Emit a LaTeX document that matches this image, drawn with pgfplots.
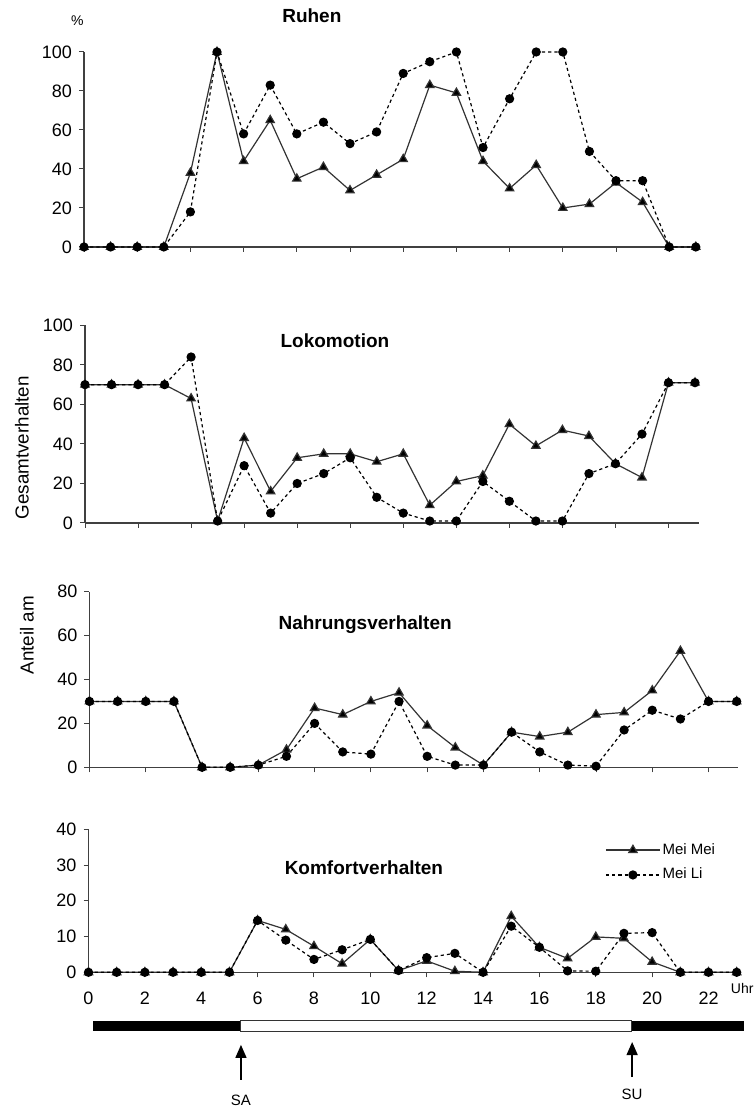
\documentclass[border=0pt]{standalone}
\usepackage{fontspec}
\setmainfont{Liberation Sans}
\usepackage{pgfplots}
\usepackage{pgfplotstable}
\pgfplotsset{compat=1.18}
\usetikzlibrary{arrows.meta}

% hour, Mei Mei, Mei Li (percent of total behaviour)
\pgfplotstableread{
h  mm   ml
0  0    0
1  0    0
2  0    0
3  0    0
4  38   18
5  100  100
6  44   58
7  65   83
8  35   58
9  41   64
10 29   53
11 37   59
12 45   89
13 83   95
14 79   100
15 44   51
16 30   76
17 42   100
18 20   100
19 22   49
20 33   34
21 23   34
22 0    0
23 0    0
}\ruhen
\pgfplotstableread{
h  mm   ml
0  70   70
1  70   70
2  70   70
3  70   70
4  63   84
5  1    1
6  43   29
7  16   5
8  33   20
9  35   25
10 35   33
11 31   13
12 35   5
13 9    1
14 21   1
15 24   21
16 50   11
17 39   1
18 47   1
19 44   25
20 30   30
21 23   45
22 71   71
23 71   71
}\lokomotion
\pgfplotstableread{
h  mm   ml
0  30   30
1  30   30
2  30   30
3  30   30
4  0    0
5  0    0
6  1    1
7  8    5
8  27   20
9  24   7
10 30   6
11 34   30
12 19   5
13 9    1
14 1    1
15 16   16
16 14   7
17 16   1
18 24   0.5
19 25   17
20 35   26
21 53   22
22 30   30
23 30   30
}\nahrung
\pgfplotstableread{
h  mm   ml
0  0    0
1  0    0
2  0    0
3  0    0
4  0    0
5  0    0
6  14.5 14.5
7  12   9
8  7.3  3.6
9  2.4  6.3
10 9.2  9.2
11 0.5  0.5
12 3.2  4.1
13 0.3  5.3
14 0    0
15 15.7 12.9
16 7    7
17 3.9  0.4
18 9.9  0.3
19 9.5  10.9
20 2.9  11.1
21 0    0
22 0    0
23 0    0
}\komfort

\pgfplotsset{
  panel/.style={
    scale only axis, anchor=south west,
    axis lines=left, axis line style={-, black!75, line width=0.6pt},
    xmin=0, ymin=0,
    tick align=outside, major tick length=2.5pt,
    tick style={black!75, line width=0.5pt},
    xtick={0,2,...,22}, xticklabels={},
    clip=false,
    tick label style={font=\fontsize{9}{10}\selectfont},
    /pgf/number format/assume math mode=true,
  },
  meimei/.style={black!80, line width=0.6pt, mark=triangle*, mark size=2.4pt,
    mark options={solid, fill=black}},
  meili/.style={black, line width=0.6pt, dash pattern=on 1.6pt off 1.5pt,
    mark=*, mark size=2pt, mark options={solid, fill=black}},
}
\newcommand{\ttl}[1]{\bfseries\fontsize{9.5}{11}\selectfont #1}

\begin{document}
\begin{tikzpicture}
\useasboundingbox (0,0) rectangle (377.5pt,553.5pt);

% Ruhen
\begin{axis}[panel, at={(42pt,430pt)}, width=307.9pt, height=97.5pt,
  xmax=23.15, ymax=100, ytick={0,20,...,100}]
\addplot[meimei] table[x=h, y=mm] {\ruhen};
\addplot[meili] table[x=h, y=ml] {\ruhen};
\node[font=\ttl{}] at (rel axis cs:0.370,1.185) {Ruhen};
\node[font=\fontsize{7}{8}\selectfont] at (rel axis cs:-0.011,1.159) {\%};
\end{axis}

% Lokomotion
\begin{axis}[panel, at={(42.5pt,292pt)}, width=307pt, height=98.8pt,
  xmax=23.15, ymax=100, ytick={0,20,...,100}]
\addplot[meimei] table[x=h, y=mm] {\lokomotion};
\addplot[meili] table[x=h, y=ml] {\lokomotion};
\node[font=\ttl{}] at (rel axis cs:0.407,0.923) {Lokomotion};
\node[rotate=90, font=\fontsize{9.4}{11}\selectfont] at (rel axis cs:-0.1026,0.381) {Gesamtverhalten};
\end{axis}

% Nahrungsverhalten
\begin{axis}[panel, at={(44.75pt,169.85pt)}, width=324.3pt, height=87.8pt,
  xmax=23.05, ymax=80, ytick={0,20,...,80}]
\addplot[meimei] table[x=h, y=mm] {\nahrung};
\addplot[meili] table[x=h, y=ml] {\nahrung};
\node[font=\ttl{}] at (rel axis cs:0.425,0.810) {Nahrungsverhalten};
\node[rotate=90, font=\fontsize{9.4}{11}\selectfont] at (rel axis cs:-0.0964,0.753) {Anteil am};
\end{axis}

% Komfortverhalten
\begin{axis}[panel, at={(44.25pt,67.35pt)}, width=324.8pt, height=71.5pt,
  xmax=23.05, ymax=40, ytick={0,10,...,40},
  xticklabels={0,2,4,6,8,10,12,14,16,18,20,22},
  xticklabel style={yshift=-4pt},
  legend style={draw=none, fill=none, at={(0.795,0.92)}, anchor=north west,
    font=\fontsize{7.5}{9}\selectfont, inner sep=0pt, row sep=3.5pt,
    nodes={inner sep=1pt}},
  legend cell align=left,
  legend image code/.code={\draw[mark repeat=2, mark phase=2, #1]
    plot coordinates {(0pt,0pt) (13.5pt,0pt) (27pt,0pt)};},
  ]
\addplot[meimei] table[x=h, y=mm] {\komfort};
\addlegendentry{Mei Mei}
\addplot[meili] table[x=h, y=ml] {\komfort};
\addlegendentry{Mei Li}
\node[font=\ttl{}] at (rel axis cs:0.424,0.729) {Komfortverhalten};
\node[anchor=west, inner sep=0pt, font=\fontsize{7}{8}\selectfont] at (axis cs:22.78,-4.4) {Uhr};
% day / night bar with sunrise (SA) and sunset (SU)
\fill[black] (axis cs:0.17,-13.6) rectangle (axis cs:5.41,-16.5);
\draw[black!80, line width=0.5pt] (axis cs:5.41,-13.6) rectangle (axis cs:19.27,-16.5);
\fill[black] (axis cs:19.27,-13.6) rectangle (axis cs:23.27,-16.5);
\draw[-{Triangle[width=5.5pt,length=6.5pt]}, line width=0.7pt]
  (axis cs:5.41,-30.1) -- (axis cs:5.41,-20.3);
\draw[-{Triangle[width=5.5pt,length=6.5pt]}, line width=0.7pt]
  (axis cs:19.29,-29.3) -- (axis cs:19.29,-19.5);
\node[font=\fontsize{7.5}{9}\selectfont] at (axis cs:5.41,-35.7) {SA};
\node[font=\fontsize{7.5}{9}\selectfont] at (axis cs:19.29,-34.1) {SU};
\end{axis}
\end{tikzpicture}
\end{document}
